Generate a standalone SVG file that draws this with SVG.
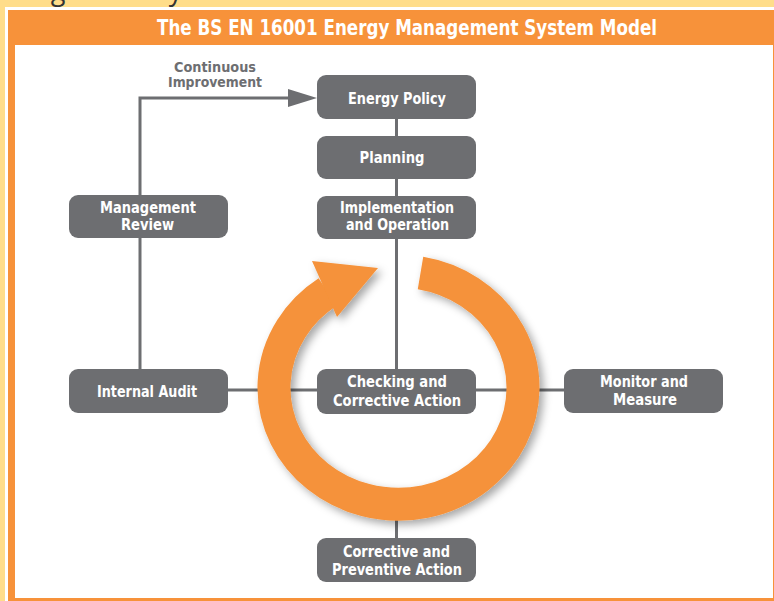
<svg xmlns="http://www.w3.org/2000/svg" width="774" height="601" viewBox="0 0 774 601">
<defs>
<style>
.node{fill:#6d6e71}
.nt{fill:#ffffff;font-family:"Liberation Sans Narrow","DejaVu Sans Condensed","Arial Narrow",sans-serif;font-weight:bold;font-size:15.5px;text-anchor:middle}
.lbl{fill:#6d6e71;font-family:"Liberation Sans Narrow","DejaVu Sans Condensed","Arial Narrow",sans-serif;font-weight:bold;font-size:14.5px;text-anchor:middle}
.conn{stroke:#6d6e71;stroke-width:3;fill:none}
</style>
<filter id="sh" x="-20%" y="-20%" width="140%" height="140%">
<feDropShadow dx="4" dy="4" stdDeviation="4" flood-color="#000" flood-opacity="0.35"/>
</filter>
</defs>
<rect x="0" y="0" width="774" height="601" fill="#ffdd8a"/>
<text x="-20" y="0" font-family="Open Sans, sans-serif" font-size="27" fill="#333333">Management Syste</text>
<rect x="5" y="7" width="769" height="594" fill="#ffffff"/>
<rect x="8" y="10" width="766" height="591" fill="#f7923a"/>
<rect x="15" y="45" width="758" height="553" fill="#ffffff"/>
<text x="407" y="35" fill="#ffffff" font-family="Liberation Sans Narrow, DejaVu Sans Condensed, sans-serif" font-weight="bold" font-size="21" text-anchor="middle" textLength="500" lengthAdjust="spacingAndGlyphs">The BS EN 16001 Energy Management System Model</text>

<g id="connectors">
<line class="conn" x1="396.5" y1="119" x2="396.5" y2="369"/>
<polyline class="conn" points="140,195 140,98 290,98"/>
<path d="M288,89 L317,98 L288,107 Z" fill="#6d6e71"/>
<line class="conn" x1="140" y1="238" x2="140" y2="369"/>
<line class="conn" x1="228" y1="390" x2="564" y2="390"/>
<line class="conn" x1="396.5" y1="500" x2="396.5" y2="538"/>
</g>

<g id="cycle" filter="url(#sh)">
<path d="M 420.5 273.1 A 124.5 116.5 0 1 1 327.6 292.0" fill="none" stroke="#f5923a" stroke-width="33"/>
<polygon points="312,261 378,268 337,317" fill="#f5923a"/>
</g>

<g id="energy-policy">
<rect class="node" x="317" y="75" width="159" height="44" rx="9"/>
<text class="nt" x="397" y="104" textLength="98" lengthAdjust="spacingAndGlyphs">Energy Policy</text>
</g>
<g id="planning">
<rect class="node" x="317" y="136" width="159" height="43" rx="9"/>
<text class="nt" x="392" y="163" textLength="65" lengthAdjust="spacingAndGlyphs">Planning</text>
</g>
<g id="implementation">
<rect class="node" x="317" y="196" width="159" height="43" rx="9"/>
<text class="nt" x="397" y="213" textLength="114" lengthAdjust="spacingAndGlyphs">Implementation</text>
<text class="nt" x="397.5" y="230" textLength="103" lengthAdjust="spacingAndGlyphs">and Operation</text>
</g>
<g id="management-review">
<rect class="node" x="69" y="195" width="159" height="43" rx="9"/>
<text class="nt" x="148" y="213" textLength="96" lengthAdjust="spacingAndGlyphs">Management</text>
<text class="nt" x="147.5" y="230" textLength="53" lengthAdjust="spacingAndGlyphs">Review</text>
</g>
<g id="continuous-improvement">
<text class="lbl" x="215" y="72" textLength="82" lengthAdjust="spacingAndGlyphs">Continuous</text>
<text class="lbl" x="215" y="87" textLength="94" lengthAdjust="spacingAndGlyphs">Improvement</text>
</g>
<g id="internal-audit">
<rect class="node" x="69" y="369" width="159" height="44" rx="9"/>
<text class="nt" x="147" y="397" textLength="100" lengthAdjust="spacingAndGlyphs">Internal Audit</text>
</g>
<g id="checking">
<rect class="node" x="317" y="369" width="159" height="45" rx="9"/>
<text class="nt" x="397" y="387" textLength="100" lengthAdjust="spacingAndGlyphs">Checking and</text>
<text class="nt" x="397" y="406" textLength="128" lengthAdjust="spacingAndGlyphs">Corrective Action</text>
</g>
<g id="monitor">
<rect class="node" x="564" y="369" width="159" height="44" rx="9"/>
<text class="nt" x="644" y="387" textLength="88" lengthAdjust="spacingAndGlyphs">Monitor and</text>
<text class="nt" x="645" y="405" textLength="64" lengthAdjust="spacingAndGlyphs">Measure</text>
</g>
<g id="corrective-preventive">
<rect class="node" x="317" y="538" width="159" height="44" rx="9"/>
<text class="nt" x="396.5" y="557" textLength="107" lengthAdjust="spacingAndGlyphs">Corrective and</text>
<text class="nt" x="397" y="575" textLength="130" lengthAdjust="spacingAndGlyphs">Preventive Action</text>
</g>
</svg>
